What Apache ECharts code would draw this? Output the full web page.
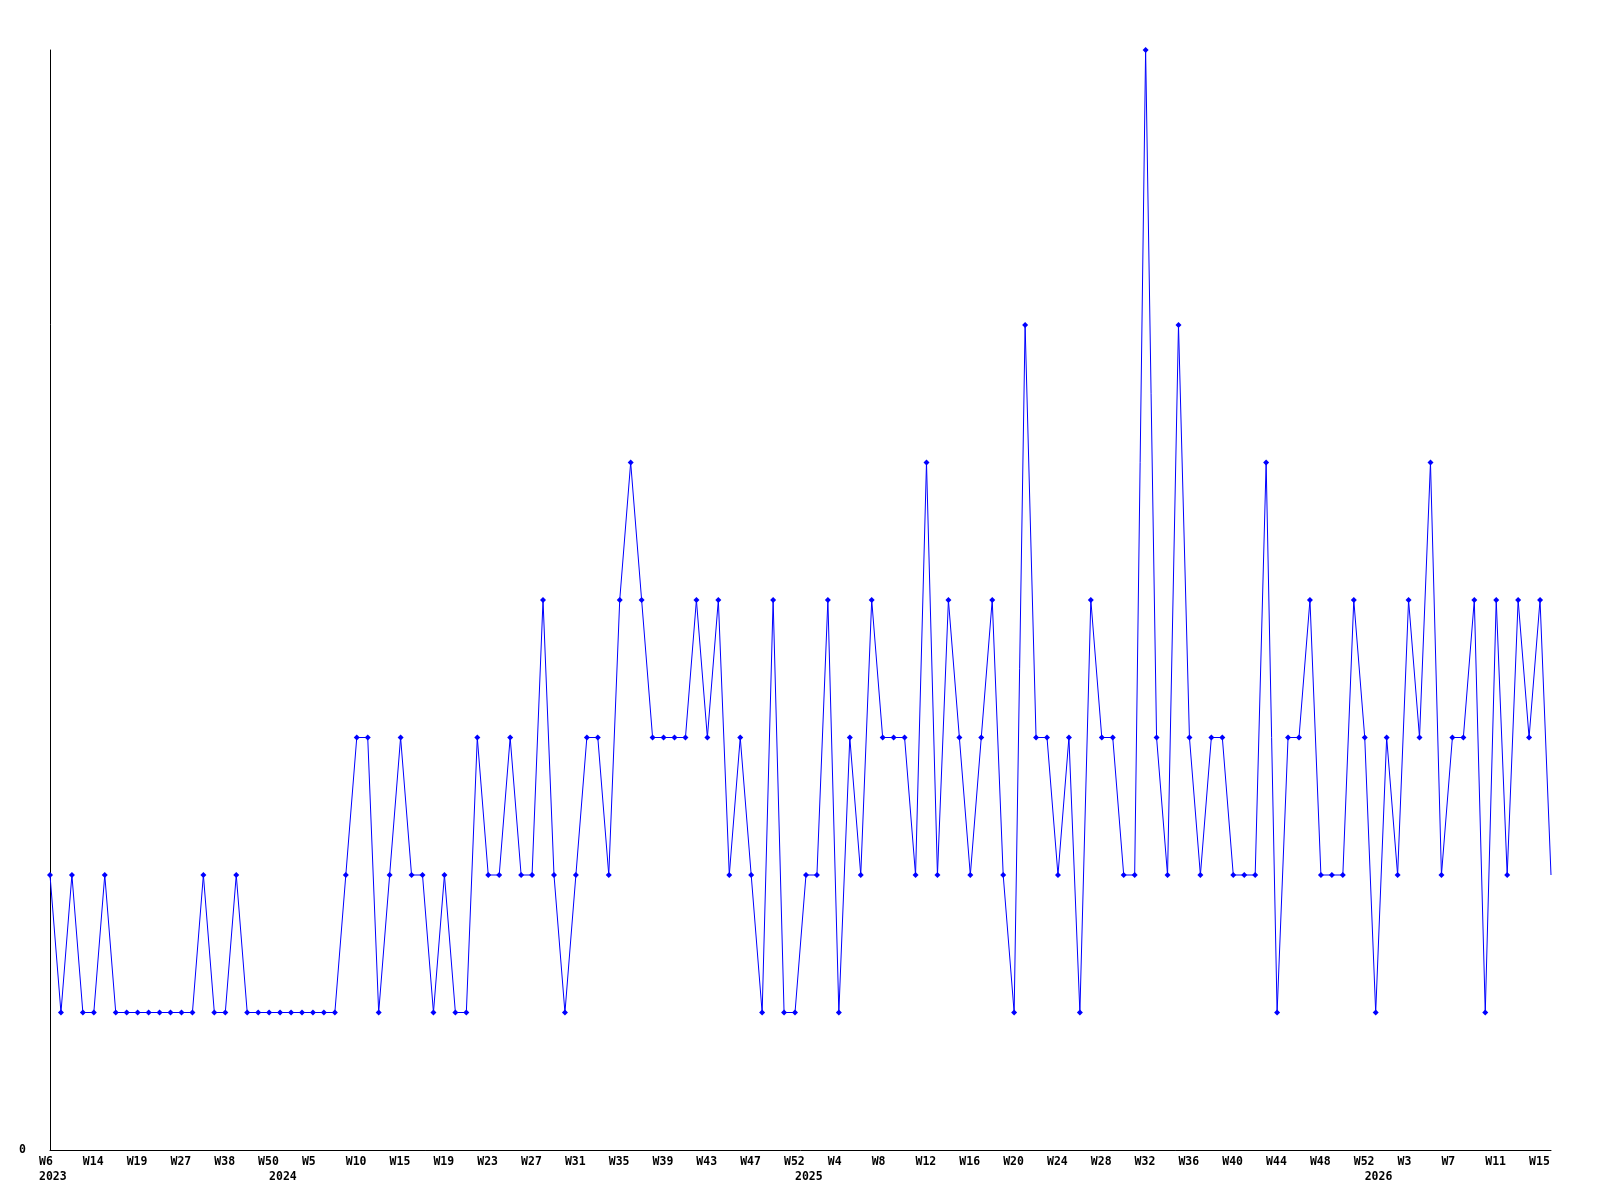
<!DOCTYPE html>
<html>
<head>
<meta charset="utf-8">
<script src="https://cdn.jsdelivr.net/npm/echarts@6/dist/echarts.min.js"></script>
<style>
  html, body { margin: 0; padding: 0; background: #ffffff; }
  #chart { width: 1600px; height: 1200px; }
</style>
</head>
<body>
<div id="chart"></div>
<script>
// Week category labels (one per point)
const weeks = [
  'W6','W8','W10','W12','W14','W15','W16','W18','W19','W21','W23','W25','W27','W30','W33','W35','W38','W41','W44','W47','W50',
  'W2','W3','W4','W5','W6','W7','W9','W10','W11','W12','W13','W15','W16','W17','W18','W19','W20','W21','W22','W23','W24','W25','W26','W27',
  'W28','W29','W30','W31','W32','W33','W34','W35','W36','W37','W38','W39','W40','W41','W42','W43','W44','W45','W46','W47','W48','W49','W51','W52',
  'W1','W2','W3','W4','W5','W6','W7','W8','W9','W10','W11','W12','W13','W14','W15','W16','W17','W18','W19','W20','W21','W22','W23','W24','W25','W26',
  'W27','W28','W29','W30','W31','W32','W33','W34','W35','W36','W37','W38','W39','W40','W41','W42','W43','W44','W45','W46','W47','W48','W49','W50','W51','W52',
  'W0','W1','W2','W3','W4','W5','W6','W7','W8','W9','W10','W11','W12','W13','W14','W15','W16'
];

// Counts per week
const values = [
  2,1,2,1,1,2,1,1,1,1,1,1,1,1,2,1,1,2,1,1,
  1,1,1,1,1,1,1,2,3,3,1,2,3,2,2,1,2,1,1,3,
  2,2,3,2,2,4,2,1,2,3,3,2,4,5,4,3,3,3,3,4,
  3,4,2,3,2,1,4,1,1,2,2,4,1,3,2,4,3,3,3,2,
  5,2,4,3,2,3,4,2,1,6,3,3,2,3,1,4,3,3,2,2,
  8,3,2,6,3,2,3,3,2,2,2,5,1,3,3,4,2,2,2,4,
  3,1,3,2,4,3,5,2,3,3,4,1,4,2,4,3,4,2
];

// Year labels: index of first point of each year
const yearStarts = [0, 21, 69, 121];
const yearNames = ['2023', '2024', '2025', '2026'];

const yTicks = [0];

const chart = echarts.init(document.getElementById('chart'), null, { renderer: 'canvas' });
const FONT = 'DejaVu Sans Mono';
const lastIdx = values.length - 1;

chart.setOption({
  backgroundColor: '#ffffff',
  animation: false,
  grid: { left: 50, right: 49, top: 50, bottom: 50 },
  xAxis: [
    {
      type: 'category',
      data: weeks,
      boundaryGap: false,
      position: 'bottom',
      axisLine: { show: true, lineStyle: { color: '#000000', width: 1 } },
      axisTick: { show: false },
      splitLine: { show: false },
      axisLabel: {
        interval: 3,
        margin: 6,
        color: '#000000',
        fontFamily: FONT,
        fontWeight: 'bold',
        fontSize: 11.5,
        formatter: function (v) { return '{w|' + v + '}'; },
        rich: { w: { width: 22, align: 'left', fontFamily: FONT, fontWeight: 'bold', fontSize: 11.5, color: '#000000' } }
      }
    },
    {
      type: 'category',
      data: weeks,
      boundaryGap: false,
      position: 'bottom',
      offset: 15,
      axisLine: { show: false },
      axisTick: { show: false },
      splitLine: { show: false },
      axisLabel: {
        interval: 0,
        margin: 6,
        color: '#000000',
        fontFamily: FONT,
        fontWeight: 'bold',
        fontSize: 11.5,
        formatter: function (v, i) {
          const k = yearStarts.indexOf(i);
          return k >= 0 ? '{w|' + yearNames[k] + '}' : '';
        },
        rich: { w: { width: 22, align: 'left', fontFamily: FONT, fontWeight: 'bold', fontSize: 11.5, color: '#000000' } }
      }
    }
  ],
  yAxis: {
    type: 'value',
    min: 0,
    max: 8,
    interval: 1,
    axisLine: { show: true, lineStyle: { color: '#000000', width: 1 } },
    axisTick: { show: false },
    splitLine: { show: false },
    axisLabel: {
      margin: 24,
      color: '#000000',
      fontFamily: FONT,
      fontWeight: 'bold',
      fontSize: 11.5,
      formatter: function (v) { return yTicks.indexOf(v) >= 0 ? String(v) : ''; }
    }
  },
  series: [{
    type: 'line',
    xAxisIndex: 0,
    data: values.map(function (v, i) { return i === lastIdx ? { value: v, symbol: 'none' } : v; }),
    symbol: 'diamond',
    symbolSize: 6,
    showAllSymbol: true,
    clip: false,
    lineStyle: { color: '#0000ff', width: 1 },
    itemStyle: { color: '#0000ff' }
  }]
});
</script>
</body>
</html>
